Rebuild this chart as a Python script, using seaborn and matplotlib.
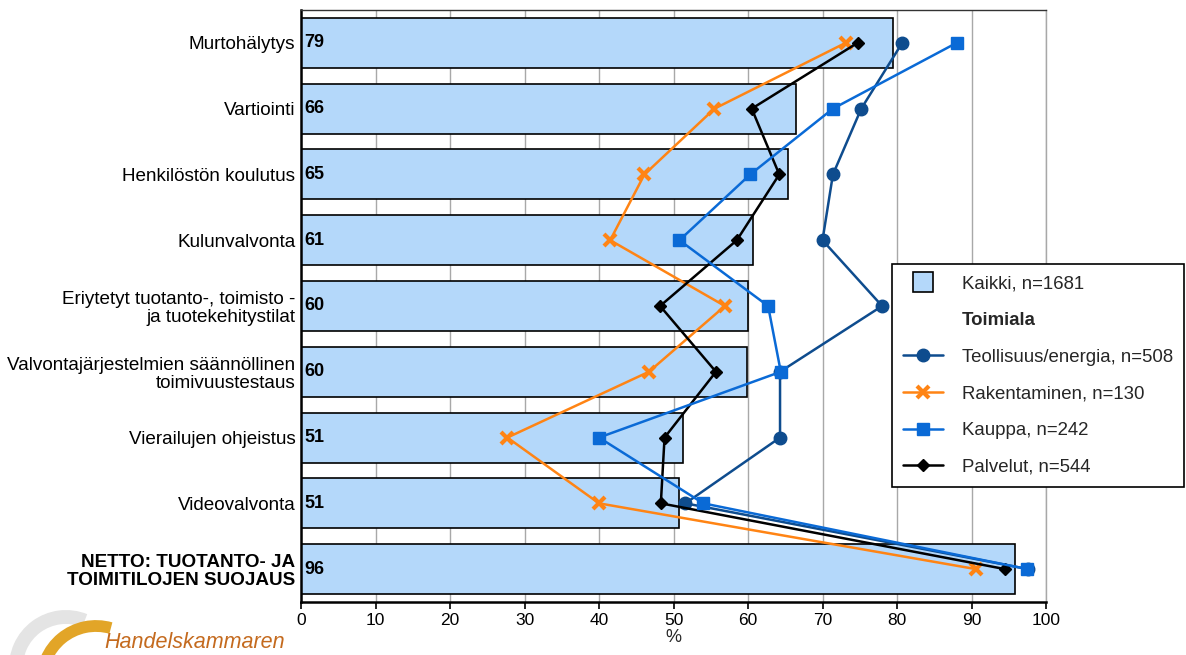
import numpy as np
import pandas as pd
import matplotlib
matplotlib.use("Agg")
import matplotlib.pyplot as plt
from matplotlib.lines import Line2D
from matplotlib.patches import Arc
import seaborn as sns

# ---------------- data ----------------
categories = [
    "Murtohälytys",
    "Vartiointi",
    "Henkilöstön koulutus",
    "Kulunvalvonta",
    "Eriytetyt tuotanto-, toimisto -\nja tuotekehitystilat",
    "Valvontajärjestelmien säännöllinen\ntoimivuustestaus",
    "Vierailujen ohjeistus",
    "Videovalvonta",
    "NETTO: TUOTANTO- JA\nTOIMITILOJEN SUOJAUS",
]
kaikki = [79.4, 66.4, 65.4, 60.7, 60.0, 59.8, 51.3, 50.8, 95.9]
teollisuus = [80.7, 75.2, 71.4, 70.0, 78.0, 64.3, 64.3, 51.6, 97.6]
rakentaminen = [73.1, 55.5, 46.1, 41.5, 56.9, 46.7, 27.7, 40.0, 90.6]
kauppa = [88.0, 71.4, 60.3, 50.8, 62.7, 64.4, 40.0, 54.0, 97.5]
palvelut = [74.7, 60.5, 64.2, 58.5, 48.2, 55.7, 48.8, 48.3, 94.5]

legend_labels = ["Kaikki, n=1681", "Toimiala", "Teollisuus/energia, n=508",
                 "Rakentaminen, n=130", "Kauppa, n=242", "Palvelut, n=544"]
x_ticks = [0, 10, 20, 30, 40, 50, 60, 70, 80, 90, 100]
x_label = "%"
logo_text = "Handelskammaren"

# ---------------- style ----------------
sns.set_theme(style="white")
plt.rcParams["font.family"] = ["Liberation Sans", "DejaVu Sans"]

bar_color = "#B4D8FA"
c_teol = "#0E4C8E"
c_rak = "#FF8414"
c_kau = "#0A6AD6"
c_pal = "#000000"

fig = plt.figure(figsize=(11.86, 6.55), dpi=100)

# logo overlay (pixel coordinates, y up)
lax = fig.add_axes([0, 0, 1, 1], zorder=0)
lax.set_xlim(0, 1186)
lax.set_ylim(0, 655)
lax.axis("off")
lax.add_patch(Arc((66, -12), 100, 100, theta1=68, theta2=185,
                  color="#E4E4E4", lw=10, zorder=1))
lax.add_patch(Arc((96, -25), 108, 108, theta1=74, theta2=185,
                  color="#E2A528", lw=8.5, zorder=2))
lax.text(104, 2, logo_text, fontsize=15.5, fontstyle="italic",
         color="#C46A1E", ha="left", va="bottom", zorder=3)

ax = fig.add_axes([301 / 1186, 1 - 602 / 655, 745 / 1186, 592 / 655], zorder=2)
ax.patch.set_alpha(0)

df = pd.DataFrame({"category": categories, "value": kaikki})
sns.barplot(data=df, x="value", y="category", orient="h", color=bar_color,
            saturation=1, edgecolor="black", linewidth=1.2, width=0.76, ax=ax,
            zorder=2)

pos = np.arange(len(categories))
series = [
    (teollisuus, c_teol, "o", 9, dict()),
    (rakentaminen, c_rak, "x", 8, dict(markeredgewidth=3)),
    (palvelut, c_pal, "D", 6.5, dict()),
    (kauppa, c_kau, "s", 8.5, dict()),
]
for vals, col, mk, ms, extra in series:
    ax.plot(vals, pos, color=col, lw=1.8, marker=mk, markersize=ms,
            markerfacecolor=col, markeredgecolor=col, zorder=4, **extra)

for i, v in enumerate(kaikki):
    ax.text(0.5, i, f"{v:.0f}", va="center", ha="left", fontsize=13,
            fontweight="bold", color="black", zorder=5)

ax.set_xlim(0, 100)
ax.set_ylim(len(categories) - 0.5, -0.5)
ax.set_xticks(x_ticks)
ax.set_xticklabels([str(t) for t in x_ticks])
ax.set_xlabel(x_label, fontsize=13, labelpad=1)
ax.set_ylabel("")
ax.tick_params(axis="x", direction="out", length=5, width=1.2, pad=3,
               labelsize=12.5, colors="black", bottom=True)
ax.tick_params(axis="y", length=0, pad=4, labelsize=13.6, colors="black")
for lab in ax.get_yticklabels():
    lab.set_linespacing(1.08)
ax.get_yticklabels()[-1].set_fontweight("bold")

ax.grid(axis="x", color="#A8A8A8", lw=1)
ax.grid(axis="y", visible=False)
ax.set_axisbelow(True)
for s in ["left", "bottom"]:
    ax.spines[s].set_color("black")
    ax.spines[s].set_linewidth(1.8)
ax.spines["top"].set_color("#333333")
ax.spines["top"].set_linewidth(1)
ax.spines["right"].set_color("#A8A8A8")
ax.spines["right"].set_linewidth(1)

# legend
h_kaikki = Line2D([], [], linestyle="none", marker="s", markersize=14,
                  markerfacecolor=bar_color, markeredgecolor="black",
                  markeredgewidth=1.2)
h_blank = Line2D([], [], color="none")
h_teol = Line2D([], [], color=c_teol, lw=1.8, marker="o", markersize=9)
h_rak = Line2D([], [], color=c_rak, lw=1.8, marker="x", markersize=8,
               markeredgewidth=3)
h_kau = Line2D([], [], color=c_kau, lw=1.8, marker="s", markersize=8.5)
h_pal = Line2D([], [], color=c_pal, lw=1.8, marker="D", markersize=6.5)
leg = fig.legend([h_kaikki, h_blank, h_teol, h_rak, h_kau, h_pal], legend_labels,
                 loc="upper left", bbox_to_anchor=(892 / 1186, 1 - 264 / 655),
                 fontsize=13.4, frameon=True, fancybox=False, edgecolor="black",
                 framealpha=1, handlelength=2.15, handletextpad=1.0,
                 labelspacing=1.06, borderpad=0.6, borderaxespad=0)
leg.get_frame().set_linewidth(1.2)
leg.get_texts()[1].set_fontweight("bold")
leg.set_zorder(10)

fig.savefig("out.png", dpi=100)
